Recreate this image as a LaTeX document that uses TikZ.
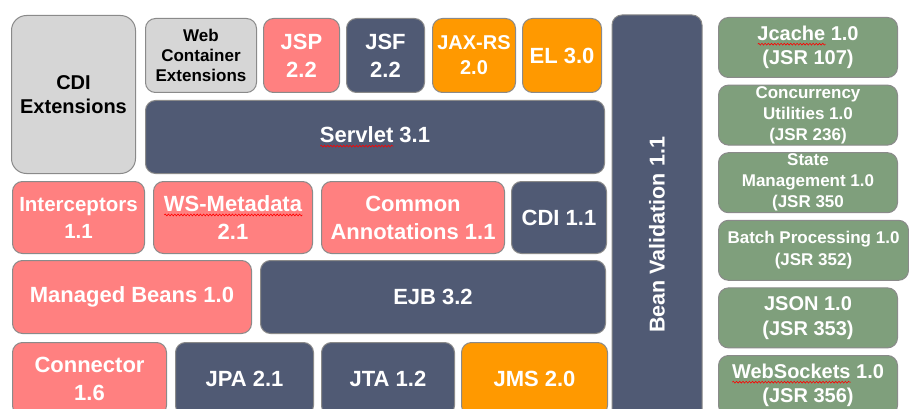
\documentclass[tikz,border=0pt]{standalone}
\usepackage{fontspec}
\setmainfont{Liberation Sans}
\usepackage{tikz}
\usetikzlibrary{positioning,decorations.pathmorphing}
\definecolor{slate}{HTML}{505A74}
\definecolor{salmon}{HTML}{FF8080}
\definecolor{amber}{HTML}{FF9900}
\definecolor{lightgrey}{HTML}{D6D6D6}
\definecolor{sage}{HTML}{7F9F7C}
\definecolor{rim}{HTML}{8A8A8A}
\newsavebox{\spellbox}
\newcommand{\spellwave}[1]{\sbox\spellbox{#1}\makebox[0pt][l]{\tikz[baseline=0pt,x=1pt,y=1pt]\draw[red,line width=0.6pt,sharp corners,decorate,decoration={snake,amplitude=0.9pt,segment length=3.2pt}] (0,-3.5) -- (\the\wd\spellbox,-3.5);}\usebox\spellbox}
\newcommand{\fs}[2]{\fontsize{#1}{#2}\selectfont}

\begin{document}
\begin{tikzpicture}[
  x=1pt,y=-1pt,
  font=\bfseries\fs{22}{28},
  spec/.style={draw=rim,line width=1pt,rounded corners=10pt,align=center,inner sep=0pt,text=white},
  slatebox/.style={spec,fill=slate},
  salmonbox/.style={spec,fill=salmon},
  amberbox/.style={spec,fill=amber},
  greybox/.style={spec,fill=lightgrey,text=black},
  sagebox/.style={spec,fill=sage,minimum width=179pt,minimum height=60pt}
]
\useasboundingbox (0,0) rectangle (909,409);
\fill[white] (0,0) rectangle (909,409);
\clip (0,0) rectangle (909,409);
% top rows
\node[greybox,rounded corners=15pt,minimum width=124pt,minimum height=158pt,anchor=north west,font=\bfseries\fs{20}{24}] (cdiext) at (11,15) {CDI\\Extensions};
\node[greybox,minimum width=111pt,minimum height=74pt,anchor=north west,font=\bfseries\fs{17}{20}] (webext) at (145,18) {Web\\Container\\Extensions};
\node[salmonbox,minimum width=76pt,minimum height=74pt,right=6pt of webext] (jsp) {JSP\\2.2};
\node[slatebox,minimum width=78pt,minimum height=74pt,right=6pt of jsp] (jsf) {JSF\\2.2};
\node[amberbox,minimum width=83pt,minimum height=74pt,right=7pt of jsf,font=\bfseries\fs{20}{25}] (jaxrs) {JAX-RS\\2.0};
\node[amberbox,minimum width=79pt,minimum height=74pt,right=6pt of jaxrs] (el) {EL 3.0};
\node[slatebox,minimum width=459pt,minimum height=73pt,anchor=north west] (servlet) at (145,100) {\spellwave{Servlet} 3.1};
% middle rows
\node[salmonbox,minimum width=132pt,minimum height=72pt,anchor=north west,font=\bfseries\fs{20.5}{27}] (intercept) at (12,181) {Interceptors\\1.1};
\node[salmonbox,minimum width=159pt,minimum height=72pt,right=8pt of intercept] (wsmeta) {\spellwave{WS-Metadata}\\2.1};
\node[salmonbox,minimum width=183pt,minimum height=72pt,right=8pt of wsmeta] (common) {Common\\Annotations 1.1};
\node[slatebox,minimum width=95pt,minimum height=72pt,right=6pt of common] (cdi) {CDI 1.1};
\node[salmonbox,minimum width=239pt,minimum height=73pt,anchor=north west] (mbeans) at (12,260) {Managed Beans 1.0};
\node[slatebox,minimum width=345pt,minimum height=73pt,right=8pt of mbeans] (ejb) {EJB 3.2};
% bottom row
\node[salmonbox,minimum width=154pt,minimum height=73pt,anchor=north west] (connector) at (12,342) {Connector\\1.6};
\node[slatebox,minimum width=138pt,minimum height=73pt,right=8pt of connector] (jpa) {JPA 2.1};
\node[slatebox,minimum width=133pt,minimum height=73pt,right=7pt of jpa] (jta) {JTA 1.2};
\node[amberbox,minimum width=146pt,minimum height=73pt,right=6pt of jta] (jms) {JMS 2.0};
% bean validation
\node[slatebox,rotate=90,minimum width=440pt,minimum height=90pt,font=\bfseries\fs{21.5}{26}] (beanval) at (657,235) {Bean Validation 1.1};
% right column
\node[sagebox,anchor=north west,font=\bfseries\fs{20}{24}] (jcache) at (718,17) {\spellwave{Jcache} 1.0\\(JSR 107)};
\node[sagebox,below=6.6pt of jcache.south west,anchor=north west,font=\bfseries\fs{17}{21}] (concur) {Concurrency\\Utilities 1.0\\(JSR 236)};
\node[sagebox,below=6.6pt of concur.south west,anchor=north west,font=\bfseries\fs{17}{21}] (state) {State\\Management 1.0\\(JSR 350};
\node[sagebox,minimum width=190pt,below=6.6pt of state.south west,anchor=north west,font=\bfseries\fs{17}{22}] (batch) {Batch Processing 1.0\\(JSR 352)};
\node[sagebox,below=6.6pt of batch.south west,anchor=north west,font=\bfseries\fs{20}{25}] (json) {JSON 1.0\\(JSR 353)};
\node[sagebox,below=6.6pt of json.south west,anchor=north west,font=\bfseries\fs{20}{24}] (websock) {\spellwave{WebSockets} 1.0\\(JSR 356)};
\end{tikzpicture}
\end{document}
